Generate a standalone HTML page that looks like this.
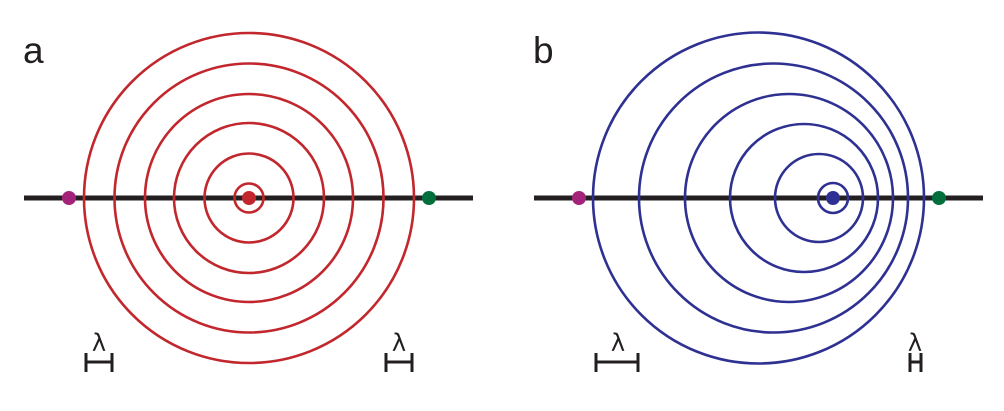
<!DOCTYPE html>
<html><head><style>html,body{margin:0;padding:0;background:#fff;}svg{display:block}</style></head>
<body>
<svg width="1004" height="411" viewBox="0 0 1004 411" xmlns="http://www.w3.org/2000/svg">
<g font-family="Liberation Sans, sans-serif" fill="#231f20">
<text x="23" y="63" font-size="37">a</text>
<text x="533" y="63" font-size="37">b</text>
</g>
<line x1="24" y1="198" x2="473" y2="198" stroke="#231f20" stroke-width="5"/>
<g fill="none" stroke="#c1272d" stroke-width="2.6">
<circle cx="249" cy="198" r="165"/><circle cx="249" cy="198" r="134.5"/><circle cx="249" cy="198" r="104"/>
<circle cx="249" cy="198" r="75"/><circle cx="249" cy="198" r="44.5"/><circle cx="249" cy="198" r="14.5"/>
</g>
<circle cx="249" cy="198" r="7" fill="#c1272d"/>
<circle cx="69" cy="198" r="7" fill="#a3237a"/>
<circle cx="429" cy="198" r="7" fill="#006f3c"/>
<line x1="534" y1="198" x2="983" y2="198" stroke="#231f20" stroke-width="5"/>
<g fill="none" stroke="#2e3192" stroke-width="2.6">
<circle cx="758.5" cy="198" r="165.5"/><circle cx="773.5" cy="198" r="134.5"/><circle cx="789" cy="198" r="104"/>
<circle cx="804" cy="198" r="74"/><circle cx="819" cy="198" r="44"/><circle cx="833" cy="198" r="15"/>
</g>
<circle cx="833" cy="198" r="7" fill="#2e3192"/>
<circle cx="579" cy="198" r="7" fill="#a3237a"/>
<circle cx="939" cy="198" r="7" fill="#006f3c"/>
<g stroke="#231f20" stroke-width="3" fill="none">
<path d="M86 353V372M86 362H112M112 353V372"/>
<path d="M386 353V372M386 362H412M412 353V372"/>
<path d="M596 353V372M596 362H638M638 353V372"/>
<path d="M910 353V372M910 362H921M921 353V372"/>
</g>
<g font-family="DejaVu Sans, Liberation Sans, sans-serif" font-size="24" fill="#231f20" text-anchor="middle">
<text x="99" y="351">λ</text>
<text x="399" y="351">λ</text>
<text x="618" y="351">λ</text>
<text x="915" y="351">λ</text>
</g>
</svg>
</body></html>
